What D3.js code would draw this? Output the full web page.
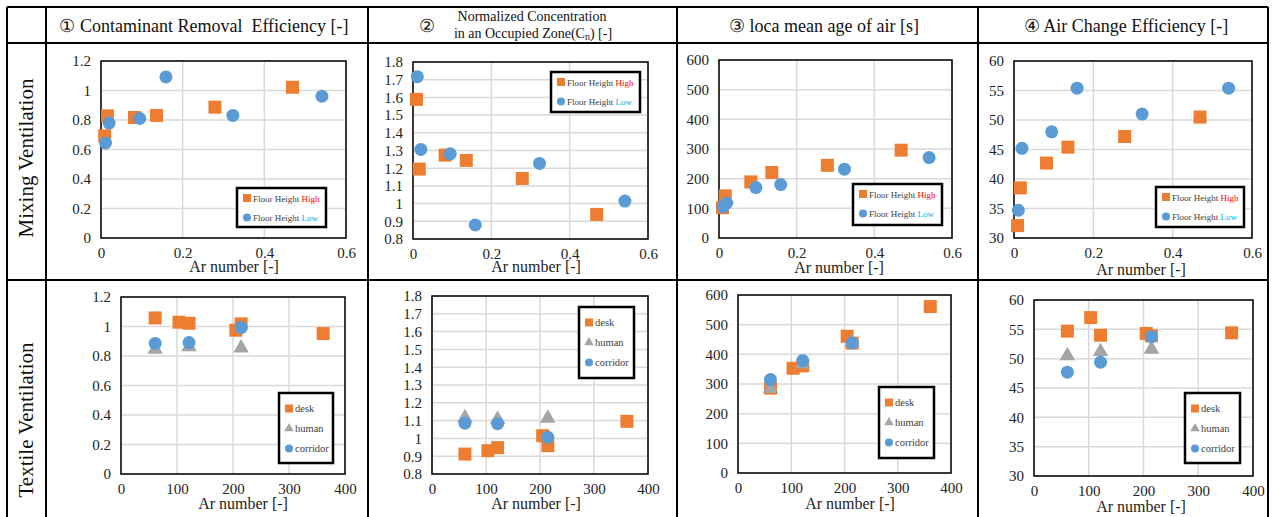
<!DOCTYPE html>
<html>
<head>
<meta charset="utf-8">
<script src="https://cdn.jsdelivr.net/npm/d3@7"></script>
<style>
  html, body { margin: 0; padding: 0; background: #fff; }
  svg { display: block; }
  text { font-family: "Liberation Serif", "Times New Roman", serif; }
</style>
</head>
<body>
<svg id="chart"></svg>
<script>
// ---- data ----
// Mixing ventilation (x = Ar number)
const arMixHigh = [0.009, 0.016, 0.082, 0.136, 0.279, 0.469];
const arMixLow  = [0.011, 0.020, 0.095, 0.159, 0.323, 0.541];
const creMixHigh = [0.693, 0.828, 0.817, 0.831, 0.887, 1.022];
const creMixLow  = [0.644, 0.779, 0.810, 1.092, 0.831, 0.961];
const cnMixHigh  = [1.589, 1.195, 1.274, 1.244, 1.142, 0.939];
const cnMixLow   = [1.717, 1.306, 1.281, 0.879, 1.227, 1.014];
const ageMixHigh = [102, 142, 189, 221, 245, 296];
const ageMixLow  = [105, 118, 170, 180, 232, 271];
const aceMixHigh = [32.1, 38.5, 42.7, 45.4, 47.2, 50.5];
const aceMixLow  = [34.7, 45.2, 48.0, 55.4, 51.0, 55.4];

// Textile ventilation
const arTexDesk   = [61, 103.5, 121.5, 205, 214.5, 361];
const arTexSensor = [61, 121.5, 214.5];
const creTexDesk     = [1.058, 1.029, 1.022, 0.975, 1.018, 0.952];
const creTexHuman    = [0.846, 0.862, 0.855];
const creTexCorridor = [0.885, 0.891, 0.993];
const cnTexDesk      = [0.912, 0.931, 0.948, 1.015, 0.959, 1.096];
const cnTexHuman     = [1.116, 1.107, 1.113];
const cnTexCorridor  = [1.085, 1.083, 1.006];
const ageTexDesk     = [286, 353, 361, 461, 438, 561];
const ageTexHuman    = [285, 367, 440];
const ageTexCorridor = [315, 379, 438];
const aceTexDesk     = [54.7, 57.0, 54.0, 54.3, 53.9, 54.4];
const aceTexHuman    = [50.5, 51.2, 51.6];
const aceTexCorridor = [47.7, 49.4, 53.75];

// ticks
const xTicksMix = [0, 0.2, 0.4, 0.6];
const xTicksTex = [0, 100, 200, 300, 400];
const yTicksCre = [0, 0.2, 0.4, 0.6, 0.8, 1, 1.2];
const yTicksCn  = [0.8, 0.9, 1, 1.1, 1.2, 1.3, 1.4, 1.5, 1.6, 1.7, 1.8];
const yTicksAge = [0, 100, 200, 300, 400, 500, 600];
const yTicksAce = [30, 35, 40, 45, 50, 55, 60];

const headers = ["① Contaminant Removal  Efficiency [-]", "", "③ loca mean age of air [s]", "④ Air Change Efficiency [-]"];
const headerX = [204, 0, 824, 1126];
const rowLabels = ["Mixing Ventilation", "Textile Ventilation"];
const xTitle = "Ar number [-]";

const ORANGE = "#ED7D31", BLUE = "#5B9BD5", GRAY = "#A5A5A5";

const W = 1272, H = 517;
const svg = d3.select("#chart").attr("width", W).attr("height", H);
svg.append("rect").attr("width", W).attr("height", H).attr("fill", "#fff");

// ---- table frame ----
const colX = [7, 46, 368, 677, 978, 1268];
const rowY = [7, 43, 280];
const table = svg.append("g").attr("stroke", "#000").attr("stroke-width", 2);
colX.forEach(x => table.append("line").attr("x1", x).attr("x2", x).attr("y1", rowY[0]).attr("y2", H + 5));
rowY.forEach(y => table.append("line").attr("x1", colX[0]).attr("x2", colX[5]).attr("y1", y).attr("y2", y));

// header texts
[0, 2, 3].forEach(i => {
  svg.append("text")
    .attr("x", headerX[i]).attr("y", 32)
    .attr("text-anchor", "middle").attr("font-size", 18).attr("fill", "#111")
    .style("white-space", "pre")
    .text(headers[i]);
});
svg.append("text").attr("x", 427).attr("y", 32).attr("text-anchor", "middle")
  .attr("font-size", 18).attr("fill", "#111").text("②");
svg.append("text").attr("x", 532).attr("y", 21).attr("text-anchor", "middle")
  .attr("font-size", 14).attr("fill", "#111").text("Normalized Concentration");
const l2 = svg.append("text").attr("x", 533).attr("y", 38).attr("text-anchor", "middle")
  .attr("font-size", 14).attr("fill", "#111");
l2.append("tspan").text("in an Occupied Zone(C");
l2.append("tspan").attr("font-size", 10).attr("dy", 2).text("n");
l2.append("tspan").attr("dy", -2).text(") [-]");

// row labels
[[158, rowLabels[0]], [420, rowLabels[1]]].forEach(([cy, t]) => {
  svg.append("text")
    .attr("transform", `translate(33,${cy}) rotate(-90)`)
    .attr("text-anchor", "middle").attr("font-size", 21).attr("fill", "#111")
    .text(t);
});

// ---- chart configs ----
const mixSeries = (yh, yl) => [
  { name: "High", shape: "square", color: ORANGE, xs: arMixHigh, ys: yh },
  { name: "Low", shape: "circle", color: BLUE, xs: arMixLow, ys: yl }
];
const texSeries = (yd, yh, yc) => [
  { name: "desk", shape: "square", color: ORANGE, xs: arTexDesk, ys: yd },
  { name: "human", shape: "triangle", color: GRAY, xs: arTexSensor, ys: yh },
  { name: "corridor", shape: "circle", color: BLUE, xs: arTexSensor, ys: yc }
];

const charts = [
  { box: [101, 346, 61, 238], xd: [0, 0.6], yd: [0, 1.2], xt: xTicksMix, yt: yTicksCre, titleX: 234, titleY: 272,
    series: mixSeries(creMixHigh, creMixLow), legend: [237, 188, 89, 39], kind: "mix" },
  { box: [413, 648, 62, 239], xd: [0, 0.6], yd: [0.8, 1.8], xt: xTicksMix, yt: yTicksCn, titleX: 536, titleY: 272,
    series: mixSeries(cnMixHigh, cnMixLow), legend: [551, 72, 89, 40], kind: "mix" },
  { box: [719, 952, 60, 238], xd: [0, 0.6], yd: [0, 600], xt: xTicksMix, yt: yTicksAge, titleX: 839, titleY: 273,
    series: mixSeries(ageMixHigh, ageMixLow), legend: [853, 184, 89, 41], kind: "mix" },
  { box: [1014, 1252, 61, 238], xd: [0, 0.6], yd: [30, 60], xt: xTicksMix, yt: yTicksAce, titleX: 1141, titleY: 275,
    series: mixSeries(aceMixHigh, aceMixLow), legend: [1156, 187, 88, 40], kind: "mix" },
  { box: [121, 345, 297, 474], xd: [0, 400], yd: [0, 1.2], xt: xTicksTex, yt: yTicksCre, titleX: 243, titleY: 509,
    series: texSeries(creTexDesk, creTexHuman, creTexCorridor), legend: [279, 393, 54, 70], kind: "tex" },
  { box: [432, 648, 296, 474], xd: [0, 400], yd: [0.8, 1.8], xt: xTicksTex, yt: yTicksCn, titleX: 536, titleY: 509,
    series: texSeries(cnTexDesk, cnTexHuman, cnTexCorridor), legend: [579, 307, 55, 71], kind: "tex" },
  { box: [738, 951, 295, 473], xd: [0, 400], yd: [0, 600], xt: xTicksTex, yt: yTicksAge, titleX: 850, titleY: 509,
    series: texSeries(ageTexDesk, ageTexHuman, ageTexCorridor), legend: [879, 387, 55, 71], kind: "tex" },
  { box: [1034, 1253, 300, 476], xd: [0, 400], yd: [30, 60], xt: xTicksTex, yt: yTicksAce, titleX: 1141, titleY: 512,
    series: texSeries(aceTexDesk, aceTexHuman, aceTexCorridor), legend: [1185, 393, 55, 70], kind: "tex" }
];

const fmt = d3.format("~g");

function marker(sel, shape, size, color) {
  const type = shape === "square" ? d3.symbolSquare : shape === "triangle" ? d3.symbolTriangle : d3.symbolCircle;
  // d3 symbol size is area
  const area = shape === "circle" ? Math.PI * (size / 2) ** 2 : shape === "triangle" ? size * size * 0.62 : size * size;
  sel.attr("d", d3.symbol().type(type).size(area)).attr("fill", color);
}

function drawChart(c) {
  const [x0, x1, y0, y1] = c.box;
  const x = d3.scaleLinear().domain(c.xd).range([x0, x1]);
  const y = d3.scaleLinear().domain(c.yd).range([y1, y0]);
  const g = svg.append("g");

  // grid
  g.append("g").selectAll("line").data(c.xt).join("line")
    .attr("x1", d => x(d)).attr("x2", d => x(d)).attr("y1", y0).attr("y2", y1)
    .attr("stroke", "#d9d9d9").attr("stroke-width", 1.5);
  g.append("g").selectAll("line").data(c.yt).join("line")
    .attr("x1", x0).attr("x2", x1).attr("y1", d => y(d)).attr("y2", d => y(d))
    .attr("stroke", "#d9d9d9").attr("stroke-width", 1.5);

  // axes
  const ax = g.append("g").attr("transform", `translate(0,${y1})`)
    .call(d3.axisBottom(x).tickValues(c.xt).tickSize(0).tickPadding(9).tickFormat(fmt));
  const ay = g.append("g").attr("transform", `translate(${x0},0)`)
    .call(d3.axisLeft(y).tickValues(c.yt).tickSize(0).tickPadding(10).tickFormat(fmt));
  [ax, ay].forEach(a => {
    a.select(".domain").remove();
    a.selectAll("text").attr("font-size", 15).attr("fill", "#222")
      .attr("font-family", "'Liberation Serif', 'Times New Roman', serif");
  });

  // plot frame
  g.append("rect").attr("x", x0).attr("y", y0).attr("width", x1 - x0).attr("height", y1 - y0)
    .attr("fill", "none").attr("stroke", "#000").attr("stroke-width", 1.5);

  // axis title
  g.append("text").attr("x", c.titleX).attr("y", c.titleY).attr("text-anchor", "middle")
    .attr("font-size", 16).attr("fill", "#222").text(xTitle);

  // points
  c.series.forEach(s => {
    g.append("g").selectAll("path").data(s.xs.map((v, i) => [v, s.ys[i]])).join("path")
      .attr("transform", d => `translate(${x(d[0])},${y(d[1])})`)
      .call(sel => marker(sel, s.shape, 13, s.color));
  });

  // legend
  const [lx, ly, lw, lh] = c.legend;
  const lg = g.append("g");
  lg.append("rect").attr("x", lx).attr("y", ly).attr("width", lw).attr("height", lh)
    .attr("fill", "#fff").attr("stroke", "#000").attr("stroke-width", 2.5);
  const step = c.kind === "mix" ? 19.5 : 20;
  const first = c.kind === "mix" ? 10 : 15.5;
  c.series.forEach((s, i) => {
    const cy = ly + first + i * step;
    lg.append("path").attr("transform", `translate(${lx + 10},${cy})`)
      .call(sel => marker(sel, s.shape, 8, s.color));
    const t = lg.append("text").attr("x", lx + 16).attr("y", cy + 3.5)
      .attr("font-size", c.kind === "mix" ? 9 : 10.5).attr("fill", "#404040");
    if (c.kind === "mix") {
      t.append("tspan").text("Floor Height ");
      t.append("tspan").attr("fill", s.name === "High" ? "#FF0000" : "#00B0F0").text(s.name);
    } else {
      t.text(s.name);
    }
  });
}

charts.forEach(drawChart);
</script>
</body>
</html>
